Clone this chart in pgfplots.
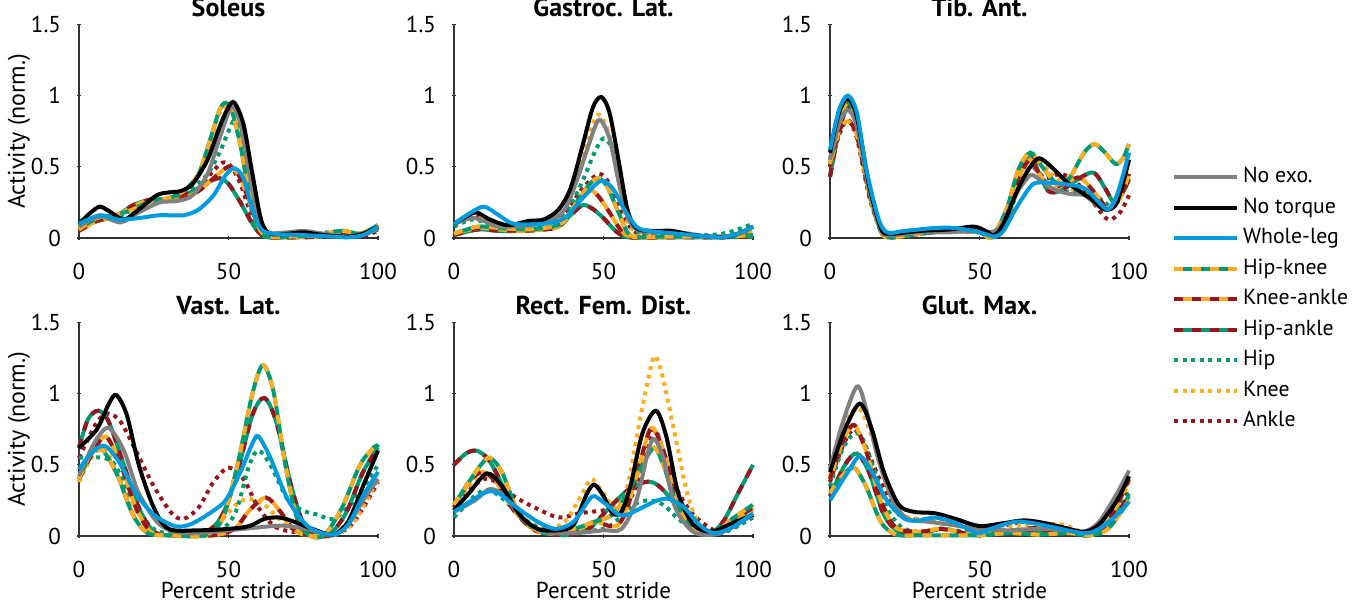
\documentclass[border=0pt]{standalone}
\usepackage{pgfplots}
\pgfplotsset{compat=1.18}
\usepackage{fontspec}
\setmainfont{PT Sans}
\definecolor{cGray}{RGB}{128,128,128}
\definecolor{cBlue}{RGB}{0,155,222}
\definecolor{cGreen}{RGB}{0,155,115}
\definecolor{cOrange}{RGB}{252,172,30}
\definecolor{cRed}{RGB}{150,22,28}
\pgfplotsset{
  base/.style={no marks, smooth, tension=0.5, line width=2bp, line cap=butt, forget plot},
  sNoexo/.style={base, cGray},
  sNotorque/.style={base, black},
  sWhole/.style={base, cBlue},
  sGreen/.style={base, cGreen},
  sOrange/.style={base, cOrange},
  sOrangeD/.style={base, cOrange, dash pattern=on 4.5bp off 4.5bp},
  sRedD/.style={base, cRed, dash pattern=on 4.5bp off 4.5bp},
  sHip/.style={base, cGreen, dash pattern=on 2bp off 2.3bp},
  sKnee/.style={base, cOrange, dash pattern=on 2bp off 2.3bp},
  sAnkle/.style={base, cRed, dash pattern=on 2bp off 2.3bp},
  panel/.style={
    scale only axis, width=149.5bp, height=106.75bp,
    xmin=0, xmax=100, ymin=0, ymax=1.5,
    axis lines=left, axis line style={-, color=black!80, line width=0.6bp},
    xtick={0,50,100}, ytick={0,0.5,1,1.5},
    major tick length=2bp, tick style={black!80, line width=0.6bp},
    /pgf/number format/assume math mode=true,
    tick label style={font=\fontsize{11.5bp}{13bp}\selectfont},
    xticklabel shift=11.5bp,
    xticklabel style={inner ysep=0pt},
    yticklabel style={anchor=east, xshift=-4.5bp},
    title style={at={(axis description cs:0.5,1)}, anchor=base, yshift=-2bp, font=\fontsize{13bp}{15bp}\selectfont\bfseries},
    xlabel style={font=\fontsize{11.5bp}{13bp}\selectfont, at={(axis description cs:0.5,-0.292)}, anchor=base, inner sep=0pt},
    ylabel style={font=\fontsize{12bp}{14bp}\selectfont, at={(axis description cs:-0.2007,0.5)}, anchor=center},
    clip=false,
    anchor=south west,
  },
}
\newcommand{\dual}[3]{\addplot[#1] coordinates {#3};\addplot[#2] coordinates {#3};}
\begin{document}
\begin{tikzpicture}
\path[use as bounding box] (0,0) rectangle (681bp,303.5bp);
% ---------------- Soleus
\begin{axis}[panel, at={(39.5bp,184.5bp)}, title={Soleus}, ylabel={Activity (norm.)}]
\addplot[sAnkle] coordinates {(0,0.06)(6,0.12)(12,0.15)(18,0.22)(24,0.27)(30,0.26)(35,0.28)(40,0.35)(44,0.45)(48,0.53)(51,0.5)(54,0.38)(57,0.2)(60,0.06)(63,0.01)(70,0.005)(80,0.01)(88,0.03)(94,0.01)(100,0.05)};
\addplot[sKnee] coordinates {(0,0.07)(6,0.14)(12,0.15)(18,0.2)(24,0.26)(30,0.28)(35,0.32)(40,0.45)(44,0.68)(47,0.88)(50,0.93)(53,0.8)(56,0.45)(59,0.15)(62,0.03)(70,0.02)(80,0.02)(88,0.05)(94,0.03)(100,0.08)};
\addplot[sHip] coordinates {(0,0.08)(6,0.14)(12,0.14)(18,0.2)(25,0.26)(32,0.28)(38,0.35)(43,0.45)(47,0.6)(50,0.75)(52,0.82)(55,0.7)(58,0.4)(61,0.1)(65,0.02)(75,0.02)(88,0.05)(94,0.03)(100,0.09)};
\dual{sGreen}{sRedD}{(0,0.06)(6,0.12)(12,0.15)(18,0.23)(24,0.27)(30,0.27)(35,0.3)(40,0.35)(44,0.4)(47,0.42)(50,0.38)(54,0.25)(58,0.1)(62,0.01)(70,0.005)(80,0.01)(88,0.03)(94,0.02)(100,0.06)}
\dual{sOrange}{sRedD}{(0,0.05)(6,0.12)(12,0.15)(18,0.22)(24,0.27)(30,0.26)(35,0.28)(40,0.33)(45,0.42)(49,0.49)(51,0.5)(54,0.42)(57,0.25)(60,0.08)(63,0.01)(70,0.005)(80,0.01)(88,0.04)(94,0.02)(100,0.07)}
\dual{sGreen}{sOrangeD}{(0,0.06)(6,0.14)(12,0.16)(18,0.2)(24,0.26)(30,0.28)(35,0.33)(40,0.45)(44,0.7)(47,0.9)(49,0.95)(51,0.9)(54,0.65)(57,0.3)(60,0.08)(63,0.01)(70,0.01)(80,0.02)(88,0.05)(94,0.03)(100,0.09)}
\addplot[sNoexo] coordinates {(0,0.08)(4,0.13)(8,0.15)(14,0.11)(20,0.18)(27,0.25)(33,0.26)(38,0.3)(43,0.45)(47,0.7)(51,0.92)(54,0.8)(57,0.45)(60,0.15)(63,0.04)(70,0.04)(75,0.05)(82,0.03)(90,0.01)(95,0.03)(100,0.07)};
\addplot[sNotorque] coordinates {(0,0.1)(4,0.18)(7,0.22)(10,0.19)(15,0.13)(20,0.2)(26,0.3)(30,0.32)(34,0.33)(38,0.38)(43,0.55)(47,0.78)(50,0.92)(52,0.95)(55,0.8)(58,0.45)(61,0.12)(64,0.03)(70,0.03)(75,0.04)(82,0.02)(90,0.01)(95,0.03)(100,0.08)};
\addplot[sWhole] coordinates {(0,0.1)(7,0.16)(13,0.13)(20,0.14)(27,0.16)(35,0.16)(40,0.2)(45,0.3)(49,0.44)(52,0.49)(55,0.42)(58,0.2)(61,0.06)(65,0.03)(75,0.02)(85,0.01)(90,0.005)(95,0.02)(100,0.08)};
\end{axis}
% ---------------- Gastroc. Lat.
\begin{axis}[panel, at={(227bp,184.5bp)}, title={Gastroc. Lat.}]
\addplot[sAnkle] coordinates {(0,0.08)(6,0.16)(10,0.14)(16,0.08)(25,0.09)(32,0.12)(38,0.2)(43,0.35)(48.5,0.45)(52,0.38)(56,0.18)(60,0.05)(65,0.02)(75,0.01)(85,0.005)(92,0.01)(100,0.03)};
\addplot[sKnee] coordinates {(0,0.09)(6,0.14)(10,0.13)(16,0.08)(25,0.09)(32,0.13)(38,0.3)(43,0.6)(47,0.83)(49,0.86)(52,0.72)(55,0.4)(58,0.12)(62,0.03)(70,0.02)(80,0.01)(90,0.01)(100,0.05)};
\addplot[sHip] coordinates {(0,0.08)(6,0.13)(12,0.1)(18,0.07)(25,0.08)(32,0.11)(38,0.2)(43,0.4)(47,0.6)(50,0.7)(53,0.62)(56,0.35)(60,0.08)(65,0.02)(75,0.02)(85,0.02)(92,0.04)(100,0.1)};
\dual{sGreen}{sRedD}{(0,0.02)(8,0.06)(15,0.05)(22,0.05)(30,0.06)(35,0.08)(39,0.16)(43,0.23)(46,0.21)(50,0.14)(54,0.05)(58,0.005)(65,0.005)(80,0.005)(90,0.005)(100,0.01)}
\dual{sOrange}{sRedD}{(0,0.03)(8,0.07)(15,0.06)(22,0.05)(30,0.06)(35,0.08)(40,0.2)(45,0.33)(48,0.3)(52,0.18)(56,0.05)(60,0.005)(70,0.005)(80,0.01)(90,0.01)(100,0.02)}
\dual{sGreen}{sOrangeD}{(0,0.03)(8,0.08)(15,0.07)(25,0.06)(33,0.08)(37,0.12)(41,0.25)(45,0.37)(48,0.42)(51,0.37)(55,0.18)(58,0.04)(61,0.005)(70,0.01)(80,0.01)(90,0.01)(100,0.02)}
\addplot[sNoexo] coordinates {(0,0.1)(6,0.14)(10,0.12)(15,0.08)(25,0.09)(32,0.12)(37,0.2)(41,0.4)(45,0.65)(48.5,0.83)(52,0.7)(55,0.4)(58,0.15)(61,0.06)(65,0.04)(75,0.04)(85,0.01)(90,0.01)(95,0.03)(100,0.08)};
\addplot[sNotorque] coordinates {(0,0.1)(4,0.15)(7.5,0.18)(12,0.13)(18,0.09)(25,0.12)(30,0.13)(35,0.2)(39,0.35)(43,0.65)(46.5,0.92)(49.3,0.99)(52,0.88)(55,0.55)(58,0.2)(61,0.07)(66,0.05)(73,0.05)(80,0.02)(90,0.005)(95,0.03)(100,0.08)};
\addplot[sWhole] coordinates {(0,0.1)(5,0.17)(10,0.22)(15,0.16)(20,0.1)(30,0.1)(37,0.14)(43,0.28)(49,0.4)(53,0.35)(57,0.2)(61,0.08)(65,0.05)(75,0.03)(85,0.01)(90,0.005)(95,0.03)(100,0.08)};
\end{axis}
% ---------------- Tib. Ant.
\begin{axis}[panel, at={(415bp,184.5bp)}, title={Tib. Ant.},
  legend style={at={(axis description cs:1.144,0.329)}, anchor=north west, draw=none, fill=none, inner sep=0pt, outer sep=0pt, row sep=5.55bp, font=\fontsize{10.9bp}{12bp}\selectfont, nodes={inner xsep=2bp, inner ysep=0pt, text height=7.5bp, text depth=2.2bp}},
  legend cell align=left]
\addlegendimage{legend image code/.code={\draw[cGray,line width=2bp](0bp,0bp)--(31.5bp,0bp);}}
\addlegendentry{No exo.}
\addlegendimage{legend image code/.code={\draw[black,line width=2bp](0bp,0bp)--(31.5bp,0bp);}}
\addlegendentry{No torque}
\addlegendimage{legend image code/.code={\draw[cBlue,line width=2bp](0bp,0bp)--(31.5bp,0bp);}}
\addlegendentry{Whole-leg}
\addlegendimage{legend image code/.code={\draw[cGreen,line width=2bp](0bp,0bp)--(31.5bp,0bp);\draw[cOrange,line width=2bp,dash pattern=on 4.5bp off 4.5bp](0bp,0bp)--(31.5bp,0bp);}}
\addlegendentry{Hip-knee}
\addlegendimage{legend image code/.code={\draw[cOrange,line width=2bp](0bp,0bp)--(31.5bp,0bp);\draw[cRed,line width=2bp,dash pattern=on 4.5bp off 4.5bp](0bp,0bp)--(31.5bp,0bp);}}
\addlegendentry{Knee-ankle}
\addlegendimage{legend image code/.code={\draw[cGreen,line width=2bp](0bp,0bp)--(31.5bp,0bp);\draw[cRed,line width=2bp,dash pattern=on 4.5bp off 4.5bp](0bp,0bp)--(31.5bp,0bp);}}
\addlegendentry{Hip-ankle}
\addlegendimage{legend image code/.code={\draw[cGreen,line width=2bp,dash pattern=on 2bp off 2.3bp](0bp,0bp)--(31.5bp,0bp);}}
\addlegendentry{Hip}
\addlegendimage{legend image code/.code={\draw[cOrange,line width=2bp,dash pattern=on 2bp off 2.3bp](0bp,0bp)--(31.5bp,0bp);}}
\addlegendentry{Knee}
\addlegendimage{legend image code/.code={\draw[cRed,line width=2bp,dash pattern=on 2bp off 2.3bp](0bp,0bp)--(31.5bp,0bp);}}
\addlegendentry{Ankle}
\addplot[sAnkle] coordinates {(0,0.5)(3,0.72)(6,0.83)(9,0.7)(13,0.3)(17,0.05)(20,0.005)(30,0.03)(40,0.05)(50,0.04)(55,0.01)(58,0.06)(62,0.3)(67,0.5)(72,0.42)(77,0.45)(82,0.4)(88,0.25)(93,0.13)(97,0.18)(100,0.3)};
\addplot[sKnee] coordinates {(0,0.55)(3,0.82)(6,0.95)(9,0.8)(13,0.35)(17,0.06)(20,0.005)(30,0.03)(40,0.05)(50,0.04)(55,0.01)(59,0.1)(64,0.42)(69,0.55)(74,0.45)(80,0.35)(87,0.3)(92,0.2)(96,0.25)(100,0.4)};
\addplot[sHip] coordinates {(0,0.55)(3,0.82)(6,0.93)(9,0.8)(13,0.35)(17,0.06)(20,0.005)(30,0.03)(40,0.05)(50,0.04)(55,0.01)(59,0.12)(64,0.4)(68,0.5)(74,0.35)(82,0.32)(90,0.28)(94,0.22)(97,0.3)(100,0.45)};
\dual{sGreen}{sRedD}{(0,0.43)(3,0.75)(6,0.92)(9,0.8)(13,0.35)(17,0.05)(20,0.005)(30,0.03)(40,0.05)(50,0.04)(55,0.005)(59,0.15)(63,0.45)(67,0.58)(70,0.45)(73,0.33)(77,0.33)(82,0.4)(88,0.46)(92,0.35)(95,0.25)(98,0.32)(100,0.42)}
\dual{sOrange}{sRedD}{(0,0.5)(3,0.75)(6,0.82)(9,0.72)(13,0.32)(17,0.05)(20,0.005)(30,0.03)(40,0.05)(50,0.04)(55,0.01)(59,0.12)(63,0.42)(67,0.55)(70,0.45)(74,0.35)(80,0.4)(84,0.42)(90,0.28)(93,0.2)(97,0.28)(100,0.45)}
\dual{sGreen}{sOrangeD}{(0,0.52)(3,0.82)(6,0.95)(9,0.82)(13,0.35)(17,0.05)(20,0.005)(30,0.03)(40,0.05)(50,0.04)(54,0.005)(59,0.2)(63,0.48)(67,0.6)(71,0.5)(76,0.38)(80,0.42)(85,0.6)(88.5,0.66)(92,0.6)(95.5,0.52)(98,0.56)(100,0.66)}
\addplot[sNoexo] coordinates {(0,0.55)(3,0.8)(6,0.9)(9,0.78)(13,0.35)(17,0.06)(20,0.02)(30,0.04)(40,0.04)(47,0.05)(53,0.04)(57,0.08)(62,0.3)(66,0.42)(68,0.44)(74,0.35)(80,0.31)(85,0.3)(90,0.22)(93,0.2)(96,0.3)(100,0.55)};
\addplot[sNotorque] coordinates {(0,0.6)(3,0.88)(6,0.98)(9,0.85)(13,0.38)(17,0.07)(20,0.03)(30,0.05)(40,0.06)(48,0.08)(52,0.05)(55,0.02)(58,0.1)(63,0.35)(67,0.5)(70,0.56)(74,0.5)(80,0.38)(87,0.28)(92,0.2)(96,0.25)(100,0.55)};
\addplot[sWhole] coordinates {(0,0.62)(3,0.9)(6,1.0)(9,0.88)(12,0.5)(16,0.15)(19,0.04)(25,0.05)(35,0.07)(42,0.07)(50,0.04)(55,0.01)(58,0.05)(62,0.2)(67,0.36)(70,0.39)(78,0.38)(85,0.35)(90,0.25)(93,0.2)(96,0.3)(100,0.6)};
\end{axis}
% ---------------- Vast. Lat.
\begin{axis}[panel, at={(39.5bp,35.5bp)}, title={Vast. Lat.}, ylabel={Activity (norm.)}, xlabel={Percent stride}]
\addplot[sAnkle] coordinates {(0,0.55)(6,0.8)(10,0.86)(14,0.8)(19,0.6)(25,0.35)(31,0.16)(35,0.12)(40,0.2)(45,0.38)(50,0.48)(55,0.4)(60,0.2)(66,0.06)(75,0.02)(85,0.005)(92,0.1)(100,0.38)};
\addplot[sKnee] coordinates {(0,0.38)(5,0.58)(9,0.6)(14,0.4)(20,0.15)(26,0.02)(35,0.005)(42,0.03)(47,0.1)(53,0.23)(57,0.26)(62,0.22)(68,0.1)(75,0.02)(85,0.005)(92,0.1)(100,0.4)};
\addplot[sHip] coordinates {(0,0.55)(4,0.55)(8,0.55)(12,0.5)(18,0.25)(25,0.05)(35,0.005)(45,0.01)(52,0.15)(57,0.5)(60,0.6)(64,0.5)(70,0.25)(76,0.17)(80,0.15)(85,0.12)(92,0.25)(100,0.5)};
\dual{sGreen}{sRedD}{(0,0.62)(3,0.82)(6.5,0.88)(10,0.8)(15,0.5)(20,0.2)(25,0.03)(32,0.005)(42,0.02)(48,0.15)(53,0.45)(58,0.85)(62,0.97)(66,0.8)(71,0.35)(76,0.05)(83,0.005)(89,0.15)(95,0.45)(100,0.62)}
\dual{sOrange}{sRedD}{(0,0.4)(5,0.6)(9,0.7)(14,0.5)(19,0.2)(24,0.03)(30,0.005)(45,0.005)(52,0.05)(57,0.18)(62.5,0.27)(67,0.18)(72,0.04)(77,0.005)(85,0.005)(90,0.1)(96,0.3)(100,0.4)}
\dual{sGreen}{sOrangeD}{(0,0.4)(4,0.58)(8,0.6)(13,0.42)(18,0.15)(23,0.02)(30,0.005)(42,0.005)(48,0.12)(53,0.5)(58,1.0)(61.5,1.2)(65,1.02)(69,0.5)(73,0.12)(77,0.005)(82,0.005)(88,0.2)(94,0.5)(99,0.63)(100,0.62)}
\addplot[sNoexo] coordinates {(0,0.42)(5,0.65)(9.8,0.76)(15,0.6)(20,0.3)(27,0.08)(35,0.02)(45,0.03)(55,0.05)(65,0.07)(70,0.07)(78,0.04)(85,0.005)(90,0.08)(95,0.25)(100,0.4)};
\addplot[sNotorque] coordinates {(0,0.62)(6,0.75)(10,0.93)(12.5,0.99)(16,0.85)(20,0.5)(25,0.2)(30,0.05)(40,0.04)(50,0.05)(57,0.07)(62,0.12)(67,0.13)(72,0.1)(78,0.05)(85,0.01)(90,0.1)(95,0.35)(100,0.6)};
\addplot[sWhole] coordinates {(0,0.47)(5,0.6)(9,0.63)(14,0.5)(19,0.3)(25,0.15)(32,0.07)(37,0.08)(43,0.15)(49,0.25)(54,0.45)(58,0.65)(60,0.7)(64,0.55)(70,0.25)(77,0.06)(85,0.01)(90,0.08)(95,0.28)(100,0.45)};
\end{axis}
% ---------------- Rect. Fem. Dist.
\begin{axis}[panel, at={(227bp,35.5bp)}, title={Rect. Fem. Dist.}, xlabel={Percent stride}]
\addplot[sAnkle] coordinates {(0,0.18)(5,0.32)(10,0.4)(14,0.38)(20,0.28)(27,0.2)(35,0.13)(42,0.16)(50,0.18)(55,0.2)(60,0.3)(64,0.55)(67,0.75)(70,0.6)(74,0.35)(80,0.15)(88,0.03)(93,0.05)(100,0.15)};
\addplot[sKnee] coordinates {(0,0.2)(5,0.35)(10,0.45)(16,0.35)(22,0.15)(30,0.05)(37,0.1)(43,0.3)(46,0.4)(50,0.3)(54,0.2)(58,0.35)(62,0.8)(66,1.2)(67.5,1.26)(70,1.1)(74,0.7)(78,0.3)(82,0.08)(87,0.03)(93,0.08)(100,0.18)};
\addplot[sHip] coordinates {(0,0.13)(4,0.22)(8,0.3)(12,0.32)(17,0.25)(23,0.12)(32,0.03)(40,0.03)(50,0.05)(55,0.12)(60,0.22)(65,0.25)(70,0.22)(75,0.12)(80,0.05)(87,0.01)(93,0.05)(100,0.13)};
\dual{sGreen}{sRedD}{(0,0.5)(4,0.58)(7.5,0.6)(11,0.55)(14,0.45)(20,0.2)(27,0.05)(37,0.005)(45,0.05)(52,0.2)(58,0.32)(64,0.38)(68,0.36)(73,0.25)(80,0.05)(85,0.01)(90,0.1)(95,0.3)(100,0.5)}
\dual{sOrange}{sRedD}{(0,0.2)(5,0.38)(9.5,0.45)(14,0.38)(20,0.18)(27,0.04)(35,0.02)(42,0.05)(47,0.1)(52,0.07)(55,0.08)(58,0.2)(62,0.5)(66,0.76)(70,0.6)(75,0.25)(80,0.05)(87,0.02)(93,0.1)(100,0.2)}
\dual{sGreen}{sOrangeD}{(0,0.22)(5,0.38)(9,0.5)(12,0.55)(16,0.45)(22,0.15)(30,0.02)(40,0.05)(47,0.1)(53,0.15)(58,0.3)(63,0.5)(67,0.62)(70,0.5)(75,0.2)(82,0.03)(87,0.02)(93,0.12)(100,0.22)}
\addplot[sNoexo] coordinates {(0,0.17)(7,0.25)(12,0.33)(17,0.28)(23,0.12)(30,0.03)(40,0.02)(50,0.04)(56,0.05)(61,0.25)(65,0.6)(67,0.68)(70,0.55)(74,0.2)(80,0.03)(87,0.01)(93,0.06)(100,0.15)};
\addplot[sNotorque] coordinates {(0,0.18)(5,0.3)(11,0.44)(16,0.35)(22,0.15)(28,0.05)(35,0.04)(40,0.08)(44.5,0.3)(47,0.36)(50,0.28)(53,0.16)(56,0.17)(59,0.35)(63,0.72)(67.5,0.88)(71,0.7)(75,0.3)(80,0.08)(86,0.03)(92,0.08)(100,0.15)};
\addplot[sWhole] coordinates {(0,0.17)(6,0.25)(11,0.31)(15,0.3)(21,0.2)(28,0.1)(34,0.05)(40,0.1)(45,0.25)(47,0.28)(51,0.22)(55,0.15)(58,0.15)(63,0.2)(68,0.25)(72,0.26)(77,0.2)(82,0.08)(87,0.02)(93,0.06)(100,0.16)};
\end{axis}
% ---------------- Glut. Max.
\begin{axis}[panel, at={(415bp,35.5bp)}, title={Glut. Max.}, xlabel={Percent stride}]
\addplot[sAnkle] coordinates {(0,0.38)(4,0.62)(8,0.75)(12,0.62)(17,0.38)(22,0.17)(28,0.12)(37,0.12)(45,0.08)(52,0.04)(60,0.08)(65,0.1)(72,0.08)(80,0.05)(85,0.02)(93,0.1)(100,0.33)};
\addplot[sKnee] coordinates {(0,0.42)(5,0.78)(9.5,0.9)(14,0.7)(19,0.35)(24,0.15)(30,0.12)(37,0.12)(45,0.08)(52,0.05)(60,0.07)(70,0.08)(78,0.08)(85,0.03)(93,0.1)(100,0.38)};
\addplot[sHip] coordinates {(0,0.35)(4,0.6)(8,0.72)(11,0.68)(15,0.45)(19,0.2)(24,0.06)(30,0.03)(37,0.05)(45,0.03)(50,0.01)(60,0.02)(70,0.02)(80,0.02)(87,0.005)(93,0.08)(100,0.3)};
\dual{sGreen}{sRedD}{(0,0.28)(5,0.5)(9,0.58)(13,0.45)(18,0.15)(23,0.03)(30,0.01)(37,0.05)(45,0.02)(50,0.005)(60,0.02)(70,0.02)(80,0.02)(87,0.005)(93,0.08)(100,0.28)}
\dual{sOrange}{sRedD}{(0,0.4)(4,0.65)(8,0.78)(12,0.6)(17,0.25)(22,0.06)(30,0.03)(37,0.05)(45,0.02)(50,0.01)(58,0.03)(65,0.05)(72,0.06)(80,0.04)(87,0.01)(93,0.1)(100,0.4)}
\dual{sGreen}{sOrangeD}{(0,0.3)(4,0.42)(8,0.48)(12,0.35)(17,0.1)(22,0.01)(30,0.005)(40,0.005)(50,0.005)(60,0.02)(70,0.01)(80,0.02)(87,0.005)(93,0.05)(100,0.25)}
\addplot[sNoexo] coordinates {(0,0.47)(4,0.78)(9,1.05)(12,0.9)(16,0.55)(21,0.25)(26,0.12)(33,0.1)(40,0.08)(50,0.05)(60,0.04)(70,0.05)(80,0.04)(85,0.03)(90,0.1)(96,0.3)(100,0.46)};
\addplot[sNotorque] coordinates {(0,0.45)(5,0.75)(10,0.93)(14,0.75)(18,0.45)(23,0.22)(28,0.17)(35,0.16)(42,0.12)(50,0.07)(58,0.09)(65,0.11)(72,0.09)(78,0.06)(85,0.03)(90,0.08)(96,0.25)(100,0.42)};
\addplot[sWhole] coordinates {(0,0.25)(6,0.45)(10,0.56)(14,0.45)(19,0.25)(25,0.12)(30,0.11)(35,0.13)(41,0.1)(47,0.04)(50,0.02)(55,0.06)(62,0.1)(68,0.09)(75,0.06)(85,0.02)(90,0.05)(96,0.15)(100,0.24)};
\end{axis}
\end{tikzpicture}
\end{document}
